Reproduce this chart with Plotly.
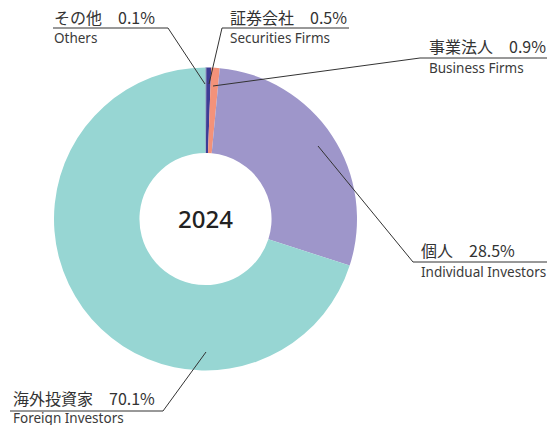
import plotly.graph_objects as go

# ---- data ----
year_label = "2024"
categories_ja = ["その他", "証券会社", "事業法人", "個人", "海外投資家"]
categories_en = ["Others", "Securities Firms", "Business Firms", "Individual Investors", "Foreign Investors"]
shares = [0.1, 0.5, 0.9, 28.5, 70.1]
colors = ["#2E2E7A", "#3E3D95", "#F3927A", "#9E96CA", "#97D6D3"]

W, H = 560, 425


def px(x):
    return x / W


def py(y):
    return 1 - y / H


fig = go.Figure()
fig.add_trace(go.Pie(
    values=shares,
    labels=categories_en,
    sort=False,
    direction="clockwise",
    rotation=0,
    hole=0.436,
    marker=dict(colors=colors, line=dict(width=0)),
    textinfo="none",
    hoverinfo="skip",
    showlegend=False,
    domain=dict(x=[px(54), px(357)], y=[py(370.5), py(67.5)]),
))

# label layout: (text-left x, ja centre y, en centre y, underline y, underline x0, x1, leader end x, y)
label_pos = [
    (53, 17, 38, 28, 53, 168, 205, 84),
    (229, 17, 38, 28, 222, 349, 209, 84),
    (428, 46, 68, 58, 420, 547, 213, 86),
    (420, 250, 272, 262, 413, 547, 318, 146),
    (12, 398, 418, 411, 10, 163, 206, 352),
]

line_col = "#333333"
for i, (tx, jy, ey, uy, ux0, ux1, lx, ly) in enumerate(label_pos):
    fig.add_annotation(
        x=px(tx), y=py(jy), xref="paper", yref="paper",
        xanchor="left", yanchor="middle", showarrow=False,
        text=f"{categories_ja[i]}\u3000{shares[i]:.1f}%",
        font=dict(family="Noto Sans CJK JP", size=16, color="#333333"),
        borderpad=0,
    )
    fig.add_annotation(
        x=px(tx), y=py(ey), xref="paper", yref="paper",
        xanchor="left", yanchor="middle", showarrow=False,
        text=categories_en[i],
        font=dict(family="Noto Sans", size=13.5, color="#3a3a3a"),
        borderpad=0,
    )
    # underline
    fig.add_shape(type="line", xref="paper", yref="paper",
                  x0=px(ux0), x1=px(ux1), y0=py(uy), y1=py(uy),
                  line=dict(color=line_col, width=1))
    # leader from underline end nearest the pie
    sx = ux1 if i in (0, 4) else ux0
    fig.add_shape(type="line", xref="paper", yref="paper",
                  x0=px(sx), y0=py(uy), x1=px(lx), y1=py(ly),
                  line=dict(color=line_col, width=1))

fig.add_annotation(
    x=px(205.5), y=py(218), xref="paper", yref="paper",
    xanchor="center", yanchor="middle", showarrow=False,
    text=year_label,
    font=dict(family="Noto Sans", size=24, color="#222222", weight=500),
)

fig.update_layout(
    width=W, height=H,
    margin=dict(l=0, r=0, t=0, b=0),
    paper_bgcolor="white", plot_bgcolor="white",
)

fig.write_html("out.html", config={"displayModeBar": False},
               post_script="document.body.style.margin='0';document.body.style.overflow='hidden';")
